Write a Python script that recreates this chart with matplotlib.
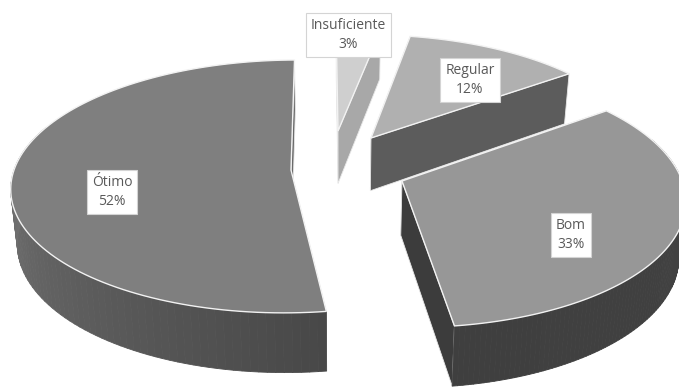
import numpy as np
import matplotlib
matplotlib.use("Agg")
import matplotlib.pyplot as plt
from matplotlib.patches import Polygon
from matplotlib.collections import PolyCollection
from matplotlib.colors import to_rgb

# Slices in clockwise drawing order
categories = ["Ótimo", "Insuficiente", "Regular", "Bom"]
percentages = [52, 3, 12, 33]

# Styling for each slice
top_colors = ["#7f7f7f", "#cfcfcf", "#b0b0b0", "#979797"]
rim_colors = [("#484848", "#7a7a7a"), ("#a8a8a8", "#a8a8a8"),
              ("#606060", "#606060"), ("#424242", "#3f3f3f")]
cut_start_colors = ["#6a6a6a", "#a8a8a8", "#606060", "#3c3c3c"]
cut_end_colors = ["#6a6a6a", "#a8a8a8", "#5c5c5c", "#3c3c3c"]
apex_px = [(291, 170), (338, 131), (371, 138), (402, 181)]
label_px = [(112, 192), (348.5, 35), (470, 80), (571, 235)]

# Projection of the pie's plane onto the canvas
START_ANGLE = 172.3
CX, CY = 340.0, 170.0
F, G, K = 277.0, 124.3, 0.13


def project(a, b):
    w = 1 + K * b
    return CX + F * a / w, CY - G * b / w


def unproject(x, y):
    dy = y - CY
    b = -dy / (G + K * dy)
    return (x - CX) * (1 + K * b) / F, b


def drop(x, y):
    """Bottom-face position for a point on the top face."""
    return CX + (x - CX) * 0.98, CY + (y - CY) * 1.04 + 54


plt.rcParams["font.family"] = ["Open Sans", "DejaVu Sans"]

fig = plt.figure(figsize=(6.79, 3.87), dpi=100)
ax = fig.add_axes([0, 0, 1, 1])
ax.set_xlim(0, 679)
ax.set_ylim(387, 0)
ax.axis("off")

angle = START_ANGLE
for i, pct in enumerate(percentages):
    sweep = pct / 100 * 360
    ts = np.radians(np.linspace(angle, angle + sweep, 121))
    angle += sweep
    a0, b0 = unproject(*apex_px[i])
    xs, ys = project(a0 + np.sin(ts), b0 + np.cos(ts))
    xb, yb = drop(xs, ys)
    ax_, ay_ = apex_px[i]
    abx, aby = drop(ax_, ay_)

    # Radial cut faces
    for end, col in ((0, cut_start_colors[i]), (-1, cut_end_colors[i])):
        ax.add_patch(Polygon([(ax_, ay_), (xs[end], ys[end]), (xb[end], yb[end]), (abx, aby)],
                             closed=True, facecolor=col, edgecolor="#e8e8e8",
                             linewidth=0.6, zorder=i * 3 + 1))

    # Outer wall, shaded along the arc
    c0, c1 = np.array(to_rgb(rim_colors[i][0])), np.array(to_rgb(rim_colors[i][1]))
    near = np.cos(ts) < 0.35
    quads, cols = [], []
    span = max(near.sum() - 1, 1)
    step = 0
    for j in range(len(ts) - 1):
        if not near[j]:
            continue
        quads.append([(xs[j], ys[j]), (xs[j + 1], ys[j + 1]),
                      (xb[j + 1], yb[j + 1]), (xb[j], yb[j])])
        cols.append(c0 + (c1 - c0) * min(step / span, 1))
        step += 1
    if quads:
        ax.add_collection(PolyCollection(quads, facecolors=cols, edgecolors=cols,
                                         linewidths=0.6, zorder=i * 3 + 1.5))

    # Top face
    outline = np.vstack([[(ax_, ay_)], np.column_stack([xs, ys])])
    ax.add_patch(Polygon(outline, closed=True, facecolor=top_colors[i],
                         edgecolor="#f2f2f2", linewidth=1.0, joinstyle="miter",
                         zorder=i * 3 + 2))

    # Data label
    lx, ly = label_px[i]
    ax.text(lx, ly, f"{categories[i]}\n{pct}%", ha="center", va="center",
            fontsize=10, color="#595959", linespacing=1.3, zorder=20,
            bbox=dict(boxstyle="square,pad=0.36", facecolor="white",
                      edgecolor="#d4d4d4", linewidth=0.8))

fig.savefig("out.png", dpi=100, facecolor="white")
